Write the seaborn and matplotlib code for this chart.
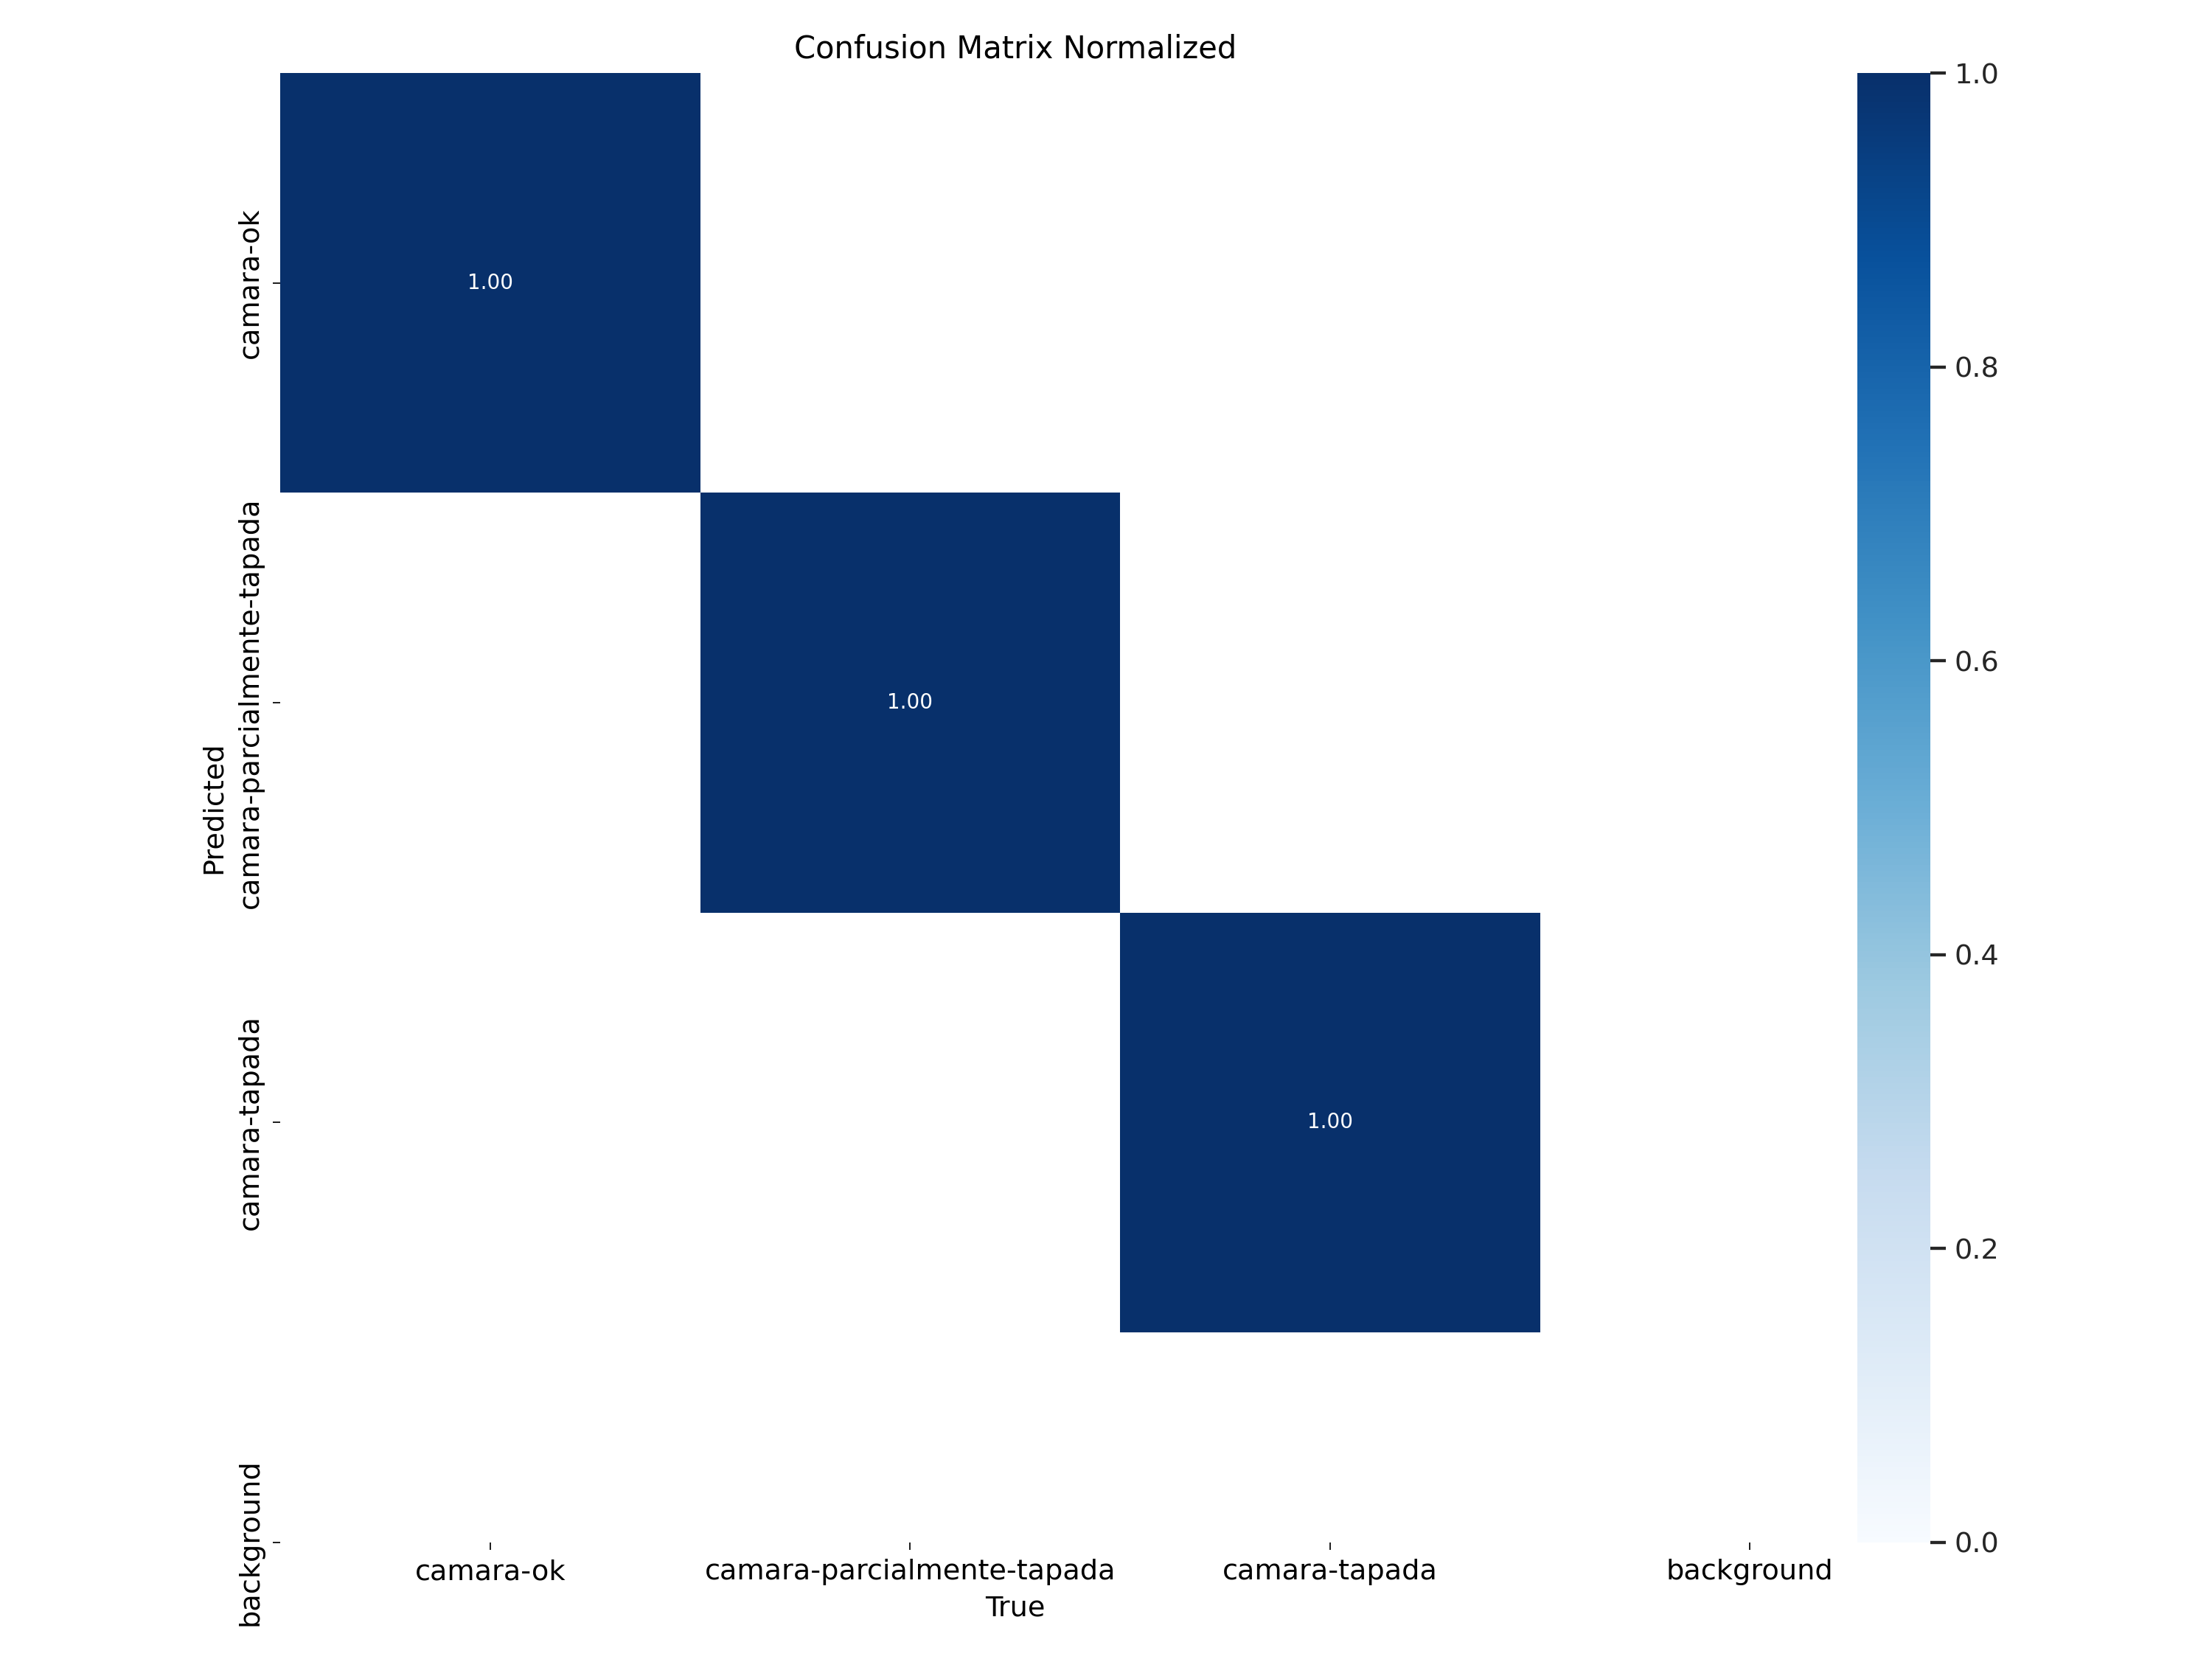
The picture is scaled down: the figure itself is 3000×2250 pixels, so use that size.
import numpy as np
import seaborn as sns
import matplotlib
matplotlib.use('Agg')
import matplotlib.pyplot as plt

names = ["camara-ok", "camara-parcialmente-tapada", "camara-tapada"]
ticklabels = names + ["background"]

# rows = predicted, cols = true; values below 0.005 are blank
matrix = np.array([
    [1.00, 0.00, 0.00, 0.00],
    [0.00, 1.00, 0.00, 0.00],
    [0.00, 0.00, 1.00, 0.00],
    [0.00, 0.00, 0.00, 0.00],
])
matrix[matrix < 0.005] = np.nan

sns.set_theme(style="ticks", font_scale=1.0)
plt.rcParams['font.family'] = ['DejaVu Sans']

fig = plt.figure(figsize=(12, 9))
# positions taken from the original layout (colorbar sits over the last column)
ax = fig.add_axes([0.12667, 0.07044, 0.75933, 0.88556])
cax = fig.add_axes([0.83967, 0.07044, 0.0329, 0.88556])
sns.heatmap(matrix, ax=ax, cbar_ax=cax, annot=True, annot_kws={"size": 8},
            cmap="Blues", fmt=".2f", vmin=0.0,
            xticklabels=ticklabels, yticklabels=ticklabels).set_facecolor((1, 1, 1))
# bottom half of the last row is cut off in the original
ax.set_ylim(3.5, 0)
ax.tick_params(axis="both", length=3, width=0.5, colors="black")
ax.set_xlabel("True", color="black", fontsize=11, x=0.4377)
ax.set_ylabel("Predicted", color="black", fontsize=11)
ax.set_title("Confusion Matrix Normalized", color="black", x=0.4377)
fig.savefig("out.png", dpi=250)
plt.close(fig)
